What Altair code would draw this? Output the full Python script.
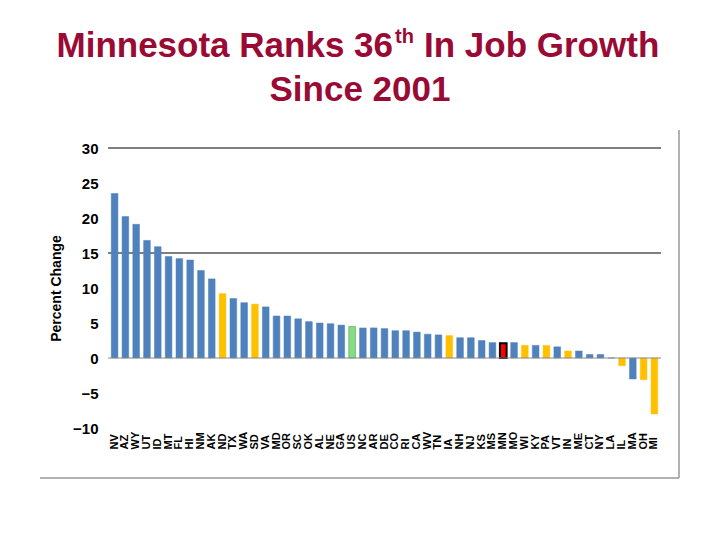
import altair as alt
import pandas as pd

states = ['NV', 'AZ', 'WY', 'UT', 'ID', 'MT', 'FL', 'HI', 'NM', 'AK',
          'ND', 'TX', 'WA', 'SD', 'VA', 'MD', 'OR', 'SC', 'OK', 'AL',
          'NE', 'GA', 'US', 'NC', 'AR', 'DE', 'CO', 'RI', 'CA', 'WV',
          'TN', 'IA', 'NH', 'NJ', 'KS', 'MS', 'MN', 'MO', 'WI', 'KY',
          'PA', 'VT', 'IN', 'ME', 'CT', 'NY', 'LA', 'IL', 'MA', 'OH', 'MI']
pct = [23.5, 20.2, 19.1, 16.8, 15.9, 14.5, 14.2, 14.0, 12.5, 11.3,
       9.2, 8.5, 7.9, 7.7, 7.3, 6.0, 6.0, 5.6, 5.2, 5.0,
       4.9, 4.7, 4.5, 4.3, 4.3, 4.2, 3.9, 3.9, 3.7, 3.4,
       3.3, 3.2, 2.9, 2.9, 2.5, 2.2, 2.1, 2.2, 1.8, 1.8,
       1.8, 1.6, 1.0, 1.0, 0.5, 0.5, 0.0, -1.1, -3.0, -3.1, -8.0]
midwest = ['ND', 'SD', 'IA', 'WI', 'PA', 'IN', 'IL', 'OH', 'MI']
grid_vals = [15, 30]
y_ticks = [-10, -5, 0, 5, 10, 15, 20, 25, 30]

groups = []
for s in states:
    if s == 'MN':
        groups.append('MN')
    elif s == 'US':
        groups.append('US')
    elif s in midwest:
        groups.append('compare')
    else:
        groups.append('other')

df = pd.DataFrame({'state': states, 'pct': pct, 'group': groups})

font = 'Liberation Sans'
red = '#990a35'
yscale = alt.Scale(domain=[-10, 30], nice=False)
yaxis = alt.Axis(title='Percent Change', values=y_ticks, grid=False,
                 domain=False, ticks=False, labelPadding=10, labelFont=font,
                 labelFontSize=15, labelFontWeight='bold', labelColor='black',
                 labelOverlap=False,
                 titleFont=font, titleFontSize=14, titleFontWeight='bold',
                 titleColor='black', titlePadding=9)

bars = alt.Chart(df).mark_bar().encode(
    x=alt.X('state:N', sort=states,
            scale=alt.Scale(paddingInner=0.38, paddingOuter=0.3),
            axis=alt.Axis(title=None, labelAngle=-90, labelAlign='left', labelBaseline='middle',
                          labelPadding=21, ticks=False, domain=False, labelFont=font,
                          labelFontSize=11, labelFontWeight='bold', labelColor='black',
                          labelOverlap=False)),
    y=alt.Y('pct:Q', scale=yscale, axis=yaxis),
    color=alt.Color('group:N', legend=None,
                    scale=alt.Scale(domain=['other', 'compare', 'MN', 'US'],
                                    range=['#4f81bd', '#ffc000', '#ff0000', '#86dc86'])),
    stroke=alt.Stroke('group:N', legend=None,
                      scale=alt.Scale(domain=['other', 'compare', 'MN', 'US'],
                                      range=['#4f81bd', '#ffc000', '#000000', '#2f9a2f'])),
    strokeWidth=alt.condition(alt.datum.group == 'MN', alt.value(2), alt.value(0.5)),
)

grid = alt.Chart(pd.DataFrame({'g': grid_vals})).mark_rule(color='black', strokeWidth=1).encode(
    y=alt.Y('g:Q', scale=yscale, axis=yaxis))
zero = alt.Chart(pd.DataFrame({'z': [0]})).mark_rule(color='#8a8a8a', strokeWidth=1.2).encode(
    y=alt.Y('z:Q', scale=yscale, axis=yaxis))


def txt(s, x, y, size, align):
    return alt.Chart(pd.DataFrame({'t': [s]})).mark_text(
        font=font, fontSize=size, fontWeight='bold', color=red, align=align, baseline='alphabetic'
    ).encode(x=alt.value(x), y=alt.value(y), text='t:N')


title = (txt('Minnesota Ranks 36', 285, -91, 35, 'right')
         + txt('th', 287, -105, 20, 'left')
         + txt('In Job Growth', 316, -91, 35, 'left')
         + txt('Since 2001', 252, -47, 35, 'center'))

frame_b = alt.Chart(pd.DataFrame({'f': [0]})).mark_rule(color='#999999', strokeWidth=1.5).encode(
    x=alt.value(-68), x2=alt.value(571), y=alt.value(330))
frame_r = alt.Chart(pd.DataFrame({'f': [0]})).mark_rule(color='#999999', strokeWidth=1.5).encode(
    x=alt.value(571), y=alt.value(-18), y2=alt.value(330))

chart = alt.layer(grid, bars, zero, title, frame_b, frame_r).properties(
    width=553, height=280,
    autosize=alt.AutoSizeParams(type='none'),
    padding={'left': 100, 'top': 140, 'right': 48, 'bottom': 90},
    background='white',
).configure_view(stroke=None)

chart.save("out.html", embed_options={"renderer": "svg", "actions": False})
